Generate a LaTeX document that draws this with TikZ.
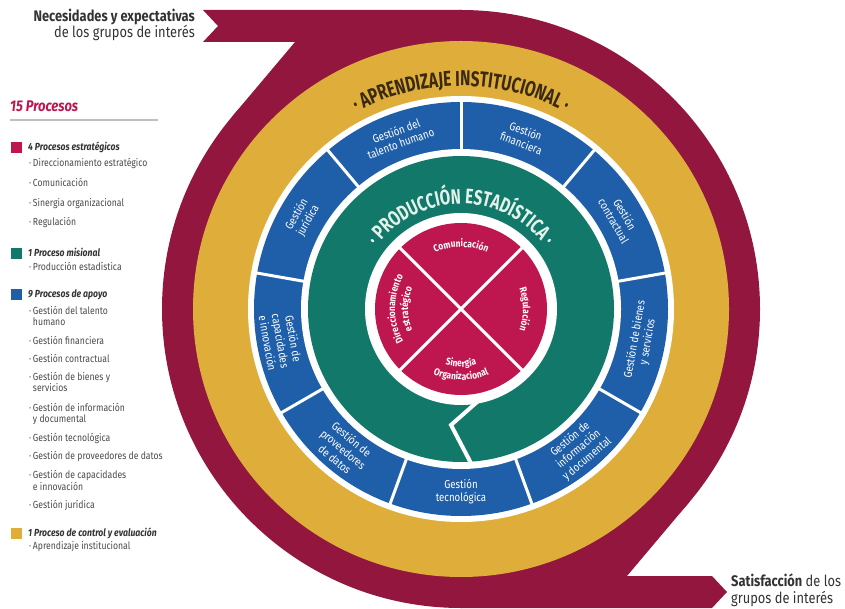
\documentclass[tikz,border=0pt]{standalone}
\usepackage{fontspec}
\setmainfont{Fira Sans}
\newfontfamily\condfont{Fira Sans}[FakeStretch=0.84]
\newfontfamily\headfont{Fira Sans}[FakeStretch=0.72]
\usetikzlibrary{positioning,decorations.text}

\definecolor{ringRed}{HTML}{93163F}
\definecolor{ringGold}{HTML}{DFAE3A}
\definecolor{cellBlue}{HTML}{1F5FA9}
\definecolor{ringGreen}{HTML}{12796A}
\definecolor{coreRed}{HTML}{BE164F}
\definecolor{titleBrown}{HTML}{3A2A12}
\definecolor{textGray}{HTML}{4A4A4A}
\definecolor{mintText}{HTML}{E3F2EA}

\newcommand{\bul}{·\,}
\newcommand{\ind}{\phantom{·\,}}
\newcommand{\corefont}{\condfont\bfseries\fontsize{10}{10}\selectfont\color{white}}

\begin{document}
\begin{tikzpicture}[
  x=1pt,
  y=1pt,
  legend/.style={anchor=base west, inner sep=0pt, align=left, text=textGray,
    font=\condfont\fontsize{10.3}{11.5}\selectfont},
  legendhead/.style={legend, text=black!80, font=\condfont\bfseries\itshape\fontsize{10.3}{11.5}\selectfont},
  swatch/.style={anchor=south west, minimum size=11pt, inner sep=0pt},
  flowtext/.style={inner sep=0pt, text=black!80, font=\condfont\fontsize{15.3}{16}\selectfont},
  cell/.style={inner sep=0pt, align=center, text=white, font=\condfont\fontsize{11.5}{13}\selectfont},
  curved/.style={decorate, decoration={text along path, text align=center, text={#1}}},
  cut/.style={white, line width=3pt}
]

\useasboundingbox (0,0) rectangle (845,608);

% banda de entrada (arriba) y de salida (abajo)
\fill[ringRed] (203,598) -- (461,598) -- (461,566) -- (203,566) -- (218,582) -- cycle;
\fill[ringRed] (295,566) -- (232.3,491.6) -- (461,299) -- (461,566) -- cycle;
\fill[ringRed] (461,32) -- (712,32) -- (727,16) -- (712,0) -- (461,0) -- cycle;
\fill[ringRed] (461,32) -- (627,32) -- (689.7,106.4) -- (461,299) -- cycle;

\node[flowtext, anchor=base east] (needA) at (195,586) {\bfseries Necesidades y expectativas};
\node[flowtext, anchor=base east] (needB) at (195,570) {de los grupos de interés};
\node[flowtext, anchor=base west] (satA) at (731,22) {\bfseries Satisfacción\mdseries{} de los};
\node[flowtext, anchor=base west] (satB) at (731,5) {grupos de interés};

\begin{scope}[shift={(461,299)}]
  \fill[ringRed] (0,0) circle[radius=299];
  \fill[ringGold] (0,0) circle[radius=268];
  \fill[white] (0,0) circle[radius=213];
  \fill[cellBlue] (0,0) circle[radius=207];
  \foreach \a in {10,50,...,330}
    \draw[cut] (\a:158) -- (\a:209);
  \fill[white] (0,0) circle[radius=160];
  \fill[ringGreen] (0,0) circle[radius=153];
  \fill[white] (0,0) circle[radius=96];
  \fill[coreRed] (0,0) circle[radius=86];
  \draw[cut] (45:88) -- (225:88);
  \draw[cut] (135:88) -- (-45:88);
  \draw[white, line width=4pt, line join=miter] (24,-86) -- (-10,-116) -- (12,-158);

  \path[curved={|\headfont\bfseries\fontsize{21.5}{21.5}\selectfont\color{titleBrown}|· APRENDIZAJE INSTITUCIONAL ·}]
    (130:223) arc[start angle=130, end angle=50, radius=223];
  \path[curved={|\headfont\bfseries\fontsize{21}{21}\selectfont\color{mintText}|· PRODUCCIÓN ESTADÍSTICA ·}]
    (155:105) arc[start angle=155, end angle=25, radius=105];

  \foreach \ang/\rot/\txt [count=\i] in {
      110/20/{Gestión del\\talento humano},
      70/-20/{Gestión\\financiera},
      30/-60/{Gestión\\contractual},
      -10/80/{Gestión de bienes\\y servicios},
      -50/40/{Gestión de\\información\\y documental},
      -90/0/{Gestión\\tecnológica},
      -130/-40/{Gestión de\\proveedores\\de datos},
      -170/-80/{Gestión de\\capacidades\\e innovación},
      150/60/{Gestión\\jurídica}}
    \node[cell, rotate=\rot] (cell\i) at (\ang:183) {\txt};

  % textos del núcleo, siguiendo el círculo
  \path[curved={|\corefont|Comunicación}] (130:62) arc[start angle=130, end angle=50, radius=62];
  \path[curved={|\corefont|Regulación}] (42:62) arc[start angle=42, end angle=-42, radius=62];
  \path[curved={|\corefont|Direccionamiento}] (228:66) arc[start angle=228, end angle=132, radius=66];
  \path[curved={|\corefont|estratégico}] (225:53) arc[start angle=225, end angle=135, radius=53];
  \path[curved={|\corefont|Sinergia}] (232:58) arc[start angle=232, end angle=308, radius=58];
  \path[curved={|\corefont|Organizacional}] (228:71) arc[start angle=228, end angle=312, radius=71];
\end{scope}

% leyenda
\node[anchor=base west, inner sep=0pt, text=coreRed, font=\condfont\bfseries\itshape\fontsize{15.5}{17}\selectfont] (lgTitle) at (10,496) {15 Procesos};
\draw[black!25, line width=1.2pt] (10,488) -- (158,488);

\node[swatch, fill=coreRed] (swStrat) at (11,455) {};
\node[legendhead] (hdStrat) at (28,457.5) {4 Procesos estratégicos};
\node[legend] (itDir) at (29,441.5) {\bul Direccionamiento estratégico};
\node[legend] (itCom) at (29,421.5) {\bul Comunicación};
\node[legend] (itSin) at (29,401.5) {\bul Sinergia organizacional};
\node[legend] (itReg) at (29,382) {\bul Regulación};

\node[swatch, fill=ringGreen] (swMis) at (11,349) {};
\node[legendhead] (hdMis) at (28,351.5) {1 Proceso misional};
\node[legend] (itProd) at (29,337) {\bul Producción estadística};

\node[swatch, fill=cellBlue] (swApoyo) at (11,308) {};
\node[legendhead] (hdApoyo) at (28,310) {9 Procesos de apoyo};
\node[legend] (itTal) at (29,282) {\bul Gestión del talento\\\ind humano};
\node[legend] (itFin) at (29,263.5) {\bul Gestión financiera};
\node[legend] (itCon) at (29,245.5) {\bul Gestión contractual};
\node[legend] (itBie) at (29,216) {\bul Gestión de bienes y\\\ind servicios};
\node[legend] (itInf) at (29,185) {\bul Gestión de información\\\ind y documental};
\node[legend] (itTec) at (29,167) {\bul Gestión tecnológica};
\node[legend] (itPro) at (29,148.5) {\bul Gestión de proveedores de datos};
\node[legend] (itCap) at (29,118) {\bul Gestión de capacidades\\\ind e innovación};
\node[legend] (itJur) at (29,99.5) {\bul Gestión jurídica};

\node[swatch, fill=ringGold] (swCtrl) at (11,69) {};
\node[legendhead] (hdCtrl) at (28,71.5) {1 Proceso de control y evaluación};
\node[legend] (itApr) at (29,58.5) {\bul Aprendizaje institucional};

\end{tikzpicture}
\end{document}
